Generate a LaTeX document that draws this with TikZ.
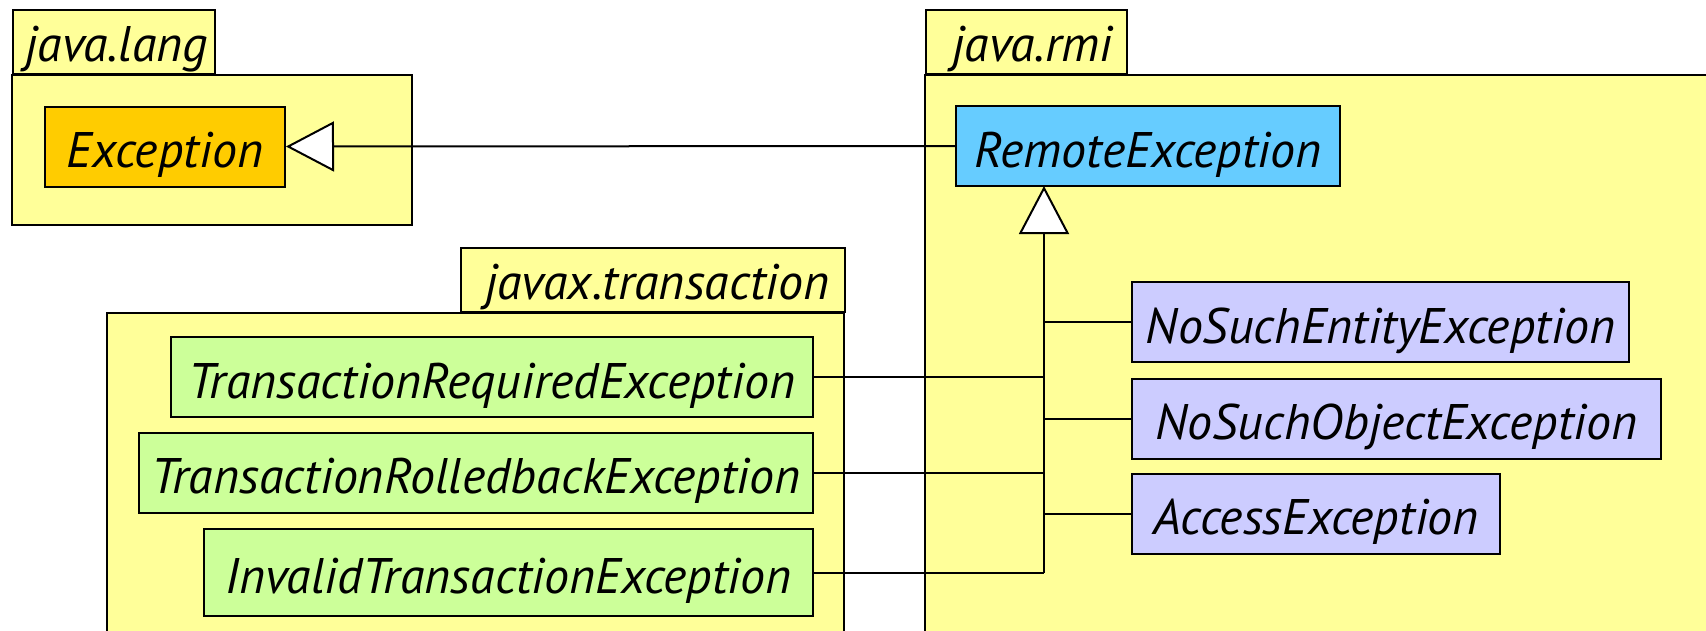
\documentclass[tikz,border=0pt]{standalone}
\usepackage{fontspec}
\setmainfont{PT Sans}
\usetikzlibrary{arrows.meta}
\definecolor{pkgyellow}{HTML}{FFFF99}
\definecolor{baseorange}{HTML}{FFCC00}
\definecolor{rmiblue}{HTML}{66CCFF}
\definecolor{txgreen}{HTML}{CCFF99}
\definecolor{rmililac}{HTML}{CCCCFF}
\begin{document}
\begin{tikzpicture}[x=1pt,y=-1pt,
  pkgbody/.style={draw, fill=pkgyellow, line width=2pt},
  pkgtab/.style={draw, fill=pkgyellow, line width=2pt, anchor=south west,
    inner xsep=0pt, inner ysep=0pt, text depth=13pt, text height=51pt,
    font=\itshape\fontsize{50}{60}\selectfont},
  cls/.style={draw, line width=2pt, inner sep=0pt, text depth=19pt, text height=61pt,
    font=\itshape\fontsize{50}{60}\selectfont},
  assoc/.style={line width=2pt},
  gen/.style={line width=2pt, -{Triangle[length=48pt, width=50pt, fill=white]}}
]
\useasboundingbox (0,0) rectangle (1706,630);

% package bodies
\draw[pkgbody] (12,75) rectangle (412,225);
\draw[pkgbody] (925,75) rectangle (1720,640);
\draw[pkgbody] (107,313) rectangle (844,640);

% package tabs
\node[pkgtab, minimum width=202pt] (langTab) at (12,75) {\hspace{5pt}java.lang\hfill};
\node[pkgtab, minimum width=201pt] (rmiTab) at (925,75) {\hspace{12pt}java.rmi\hfill};
\node[pkgtab, minimum width=384pt] (txTab) at (460,313) {\hspace{9pt}javax.transaction\hfill};

% classes
\node[cls, fill=baseorange, minimum width=240pt] (exc) at (165,146.5) {Exception};
\node[cls, fill=rmiblue, minimum width=384pt] (remote) at (1148,146) {RemoteException};
\node[cls, fill=txgreen, minimum width=642pt] (txReq) at (492,377) {TransactionRequiredException};
\node[cls, fill=txgreen, minimum width=674pt] (txRoll) at (476,472.5) {TransactionRolledbackException};
\node[cls, fill=txgreen, minimum width=609pt, minimum height=87pt] (txInv) at (508.5,572.5) {InvalidTransactionException};
\node[cls, fill=rmililac, minimum width=497pt] (noEnt) at (1380.5,322) {NoSuchEntityException};
\node[cls, fill=rmililac, minimum width=529pt] (noObj) at (1396.5,418.5) {NoSuchObjectException};
\node[cls, fill=rmililac, minimum width=368pt] (access) at (1316,513.5) {AccessException};

% inheritance tree
\coordinate (trunk) at (1044,186);
\draw[gen] (remote.west) -- (exc.east);
\draw[gen] (txInv.east -| trunk) -- (trunk);
\foreach \c in {txReq, txRoll, txInv}
  \draw[assoc] (\c.east) -- (\c.east -| trunk);
\foreach \c in {noEnt, noObj, access}
  \draw[assoc] (\c.west) -- (\c.west -| trunk);
\end{tikzpicture}
\end{document}
